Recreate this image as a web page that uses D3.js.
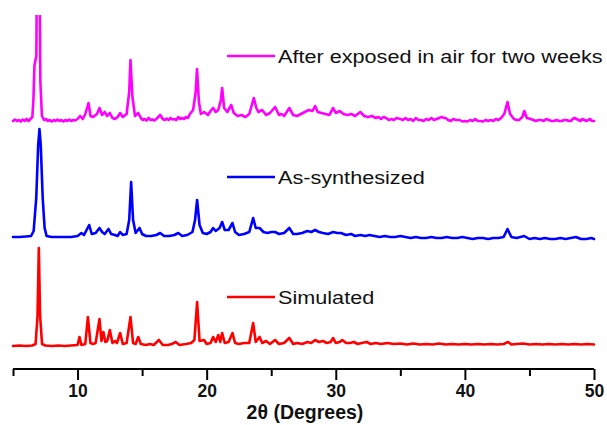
<!DOCTYPE html>
<html>
<head>
<meta charset="utf-8">
<script src="https://cdn.jsdelivr.net/npm/d3@7"></script>
<style>
html,body{margin:0;padding:0;background:#fff;}
svg{display:block;}
</style>
</head>
<body>
<svg id="chart" width="607" height="425"></svg>
<script>
// ---- data (2θ in degrees, intensity in arbitrary units above each trace's offset) ----
const seriesNames = ["After exposed in air for two weeks", "As-synthesized", "Simulated"];
const seriesColors = ["#ff00ff", "#0000ff", "#ff0000"];
const seriesOffsets = [224, 106, 0];

const xTicksMajor = [10, 20, 30, 40, 50];
const xTicksMinor = [5, 15, 25, 35, 45];
const xTitle = "2θ (Degrees)";

const simulated = [
[5.0,0],[5.5,0.5],[6.0,0],[6.5,0.5],[6.75,2],[6.9,30],[7.0,98],[7.1,30],[7.25,2],[7.5,0.5],[8.0,0],[8.5,0.5],[9.0,0],[9.5,0.5],
[10.0,1],[10.15,9],[10.3,1],[10.6,2],[10.8,29],[11.0,3],[11.2,2],[11.4,3],[11.7,27],[11.85,5],[12.0,14],[12.15,4],[12.3,5],[12.5,16],
[12.7,3],[12.9,5],[13.05,3],[13.3,13],[13.5,2],[13.8,3],[14.1,29],[14.3,3],[14.5,2],[14.7,9],[14.9,2],[15.3,1],[15.6,2],[15.9,1],
[16.3,6],[16.6,1],[17.0,1],[17.3,2],[17.6,4],[17.9,1],[18.4,2],[18.8,3],[19.05,6],[19.26,44],[19.45,5],[19.8,6],[20.0,2],[20.3,3],
[20.5,9],[20.7,4],[20.9,11],[21.05,4],[21.2,13],[21.4,3],[21.7,4],[22.0,13],[22.2,3],[22.5,2],[22.9,3],[23.3,3],[23.6,23],[23.8,4],
[24.1,9],[24.3,3],[24.6,5],[24.9,2],[25.3,6],[25.6,2],[26.0,3],[26.4,8],[26.7,2],[27.0,3],[27.4,2],[27.8,4],[28.1,3],[28.4,6],
[28.7,4],[29.0,5],[29.3,3],[29.6,4],[29.8,8],[30.0,3],[30.3,4],[30.5,6],[30.8,3],[31.1,3],[31.4,4],[31.7,2],[32.0,3],[32.4,4],
[32.7,2],[33.1,3],[33.5,2],[34.0,3],[34.5,2],[35.0,2.5],[35.5,1.5],[36.0,2.5],[36.5,1.5],[37.0,2],[37.5,1.5],[38.0,2.5],[38.5,1.5],
[39.0,2],[39.5,1.5],[40.0,2],[40.5,1.5],[41.0,2],[41.5,1.5],[42.0,2],[42.5,1.5],[43.0,2],[43.35,4],[43.6,1.5],[44.0,2],[44.5,2.5],
[45.0,1.5],[45.5,2],[46.0,1.5],[46.5,2],[47.0,1.5],[47.5,2],[48.0,1.5],[48.5,2],[49.0,1.5],[49.5,2],[50.0,1.5]
];

const asSynthesized = [
[5.0,3],[5.5,3],[6.0,3.5],[6.4,4],[6.6,9],[6.8,42],[6.95,95],[7.05,111],[7.15,95],[7.3,42],[7.45,12],[7.6,4],[8.0,3],[8.5,3],
[9.0,3],[9.5,3],[10.0,4],[10.3,7],[10.5,5],[10.7,10],[10.9,15],[11.1,6],[11.4,7],[11.7,12],[11.9,8],[12.1,6],[12.4,11],[12.6,6],
[12.9,5],[13.1,4],[13.3,8],[13.5,5],[13.8,6],[14.0,20],[14.15,58],[14.3,20],[14.5,7],[14.8,12],[15.0,6],[15.3,4],[15.7,4],[16.1,5],
[16.4,7],[16.7,4],[17.1,4],[17.5,5],[17.8,7],[18.1,4],[18.5,5],[18.9,8],[19.1,20],[19.26,40],[19.45,15],[19.7,7],[20.0,6],[20.3,8],
[20.5,12],[20.7,9],[21.0,12],[21.2,18],[21.4,10],[21.7,10],[22.0,17],[22.2,8],[22.5,5],[22.9,6],[23.3,8],[23.6,22],[23.8,12],
[24.1,12],[24.4,8],[24.7,7],[25.0,8],[25.3,8],[25.6,6],[26.0,7],[26.4,12],[26.7,6],[27.0,6],[27.4,7],[27.8,9],[28.1,8],[28.4,10],
[28.7,8],[29.0,7],[29.4,6],[29.8,8],[30.1,7],[30.4,7],[30.8,5],[31.2,6],[31.5,4],[31.9,5],[32.3,4],[32.6,5],[33.0,4],[33.4,3],
[33.8,4],[34.2,3],[34.6,3],[35.0,4],[35.4,3],[35.8,2],[36.2,3],[36.6,2],[37.0,2],[37.4,3],[37.8,2],[38.2,2],[38.6,3],[39.0,2],
[39.4,2],[39.8,3],[40.2,2],[40.6,1],[41.0,2],[41.4,2],[41.8,1],[42.2,2],[42.6,2],[43.0,3],[43.3,11],[43.6,3],[44.0,2],[44.6,4],
[45.0,1],[45.4,2],[45.8,1],[46.2,2],[46.6,1],[47.0,1],[47.4,2],[47.8,1],[48.2,2],[48.6,3],[49.0,1],[49.4,1],[49.8,2],[50.0,1]
];

const afterExposed = [
[5.0,1],[5.15,2.5],[5.3,1],[5.45,2],[5.6,0.5],[5.75,2.5],[5.9,1],[6.05,3],[6.2,1],[6.35,3],[6.5,5],[6.58,22],[6.66,56],[6.74,62],
[6.81,66],[6.87,200],[7.03,200],[7.12,40],[7.24,6],[7.4,2],[7.55,3],[7.7,1],[7.85,2],[8.0,0.5],[8.15,2],[8.3,1],[8.45,2.5],
[8.6,1],[8.75,2],[8.9,0.5],[9.05,2],[9.2,1],[9.35,2.5],[9.5,1],[9.65,2],[9.8,1.5],[10.0,3],[10.2,6],[10.4,3],[10.6,8],[10.85,19],
[11.0,6],[11.2,5],[11.5,8],[11.7,14],[11.9,7],[12.1,10],[12.3,6],[12.5,9],[12.7,4],[12.9,3],[13.1,5],[13.3,9],[13.5,5],[13.8,8],
[14.0,30],[14.1,62],[14.25,25],[14.45,6],[14.7,9],[14.9,4],[15.05,2],[15.2,3],[15.35,1.5],[15.5,4],[15.65,2],[15.8,2.5],[15.95,1.5],
[16.1,3],[16.4,7],[16.6,3],[16.75,2],[16.9,3.5],[17.05,2],[17.2,4],[17.35,2.5],[17.5,3],[17.65,2],[17.8,5],[17.95,3],[18.1,4],
[18.25,3],[18.4,5],[18.55,4],[18.7,8],[18.95,12],[19.15,30],[19.25,53],[19.4,20],[19.55,8],[19.8,10],[20.1,7],[20.3,11],[20.5,14],
[20.7,10],[20.9,12],[21.1,22],[21.2,34],[21.35,14],[21.6,10],[21.9,17],[22.1,9],[22.4,6],[22.7,7],[23.0,5],[23.3,8],[23.65,24],
[23.85,14],[24.0,10],[24.3,12],[24.6,7],[24.9,9],[25.3,15],[25.6,7],[25.8,8],[26.0,6],[26.4,14],[26.7,7],[27.0,6],[27.3,8],[27.6,10],
[27.9,12],[28.2,11],[28.4,16],[28.6,10],[28.9,9],[29.2,8],[29.5,7],[29.8,14],[30.0,9],[30.3,11],[30.6,8],[30.9,7],[31.2,8],[31.5,6],
[31.9,10],[32.2,6],[32.5,5],[32.8,6],[33.1,4],[33.3,5],[33.5,3],[33.7,5],[33.9,4],[34.1,2],[34.3,3],[34.5,2],[34.7,4],[35.0,3],
[35.2,2],[35.4,4],[35.6,2],[35.8,3],[36.0,1],[36.2,4],[36.4,2],[36.6,2],[36.8,1],[37.0,3],[37.2,2],[37.4,4],[37.6,2],[37.8,3],
[38.0,4],[38.2,5],[38.4,4],[38.5,4],[38.7,2],[38.9,1],[39.1,3],[39.3,2],[39.6,2],[39.8,0.5],[40.0,1],[40.2,0.5],[40.4,2],[40.6,1],
[40.8,3],[41.0,1],[41.2,1],[41.4,0.5],[41.6,2],[41.8,1],[42.0,2],[42.2,1],[42.4,3],[42.6,2],[42.8,4],[43.05,8],[43.3,20],[43.5,8],
[43.8,3],[44.0,2],[44.2,2],[44.45,5],[44.6,11],[44.8,4],[45.1,3],[45.3,2],[45.5,1],[45.7,2],[45.9,2],[46.1,1],[46.3,3],[46.5,2],
[46.7,1],[46.9,1],[47.1,2],[47.3,1],[47.5,1],[47.7,2],[47.9,2],[48.05,1],[48.2,1],[48.35,3],[48.5,4],[48.65,3],[48.8,2],[48.95,1],
[49.1,3],[49.25,2],[49.4,1],[49.55,2],[49.7,3],[49.85,1],[50.0,1]
];

const seriesData = [afterExposed, asSynthesized, simulated];

// ---- drawing ----
const svg = d3.select("#chart");
const W = 607, H = 425;
const axisY = 369;

const x = d3.scaleLinear().domain([5, 50]).range([13, 594]);
const y = d3.scaleLinear().domain([0, 331]).range([346, 15]);

svg.append("defs").append("clipPath").attr("id", "plotclip")
  .append("rect").attr("x", 0).attr("y", 15).attr("width", W).attr("height", axisY - 15);

const plot = svg.append("g").attr("clip-path", "url(#plotclip)");
const line = d3.line().x(d => x(d[0])).y(d => y(d[1]));

seriesData.forEach((data, i) => {
  const off = seriesOffsets[i];
  plot.append("path")
    .datum(data.map(d => [d[0], d[1] + off]))
    .attr("d", line)
    .attr("fill", "none")
    .attr("stroke", seriesColors[i])
    .attr("stroke-width", 2.6)
    .attr("stroke-linejoin", "round")
    .attr("stroke-linecap", "round");
});

// x axis
const gx = svg.append("g").attr("transform", `translate(0,${axisY})`);
gx.call(d3.axisBottom(x).tickValues(xTicksMinor).tickSize(7).tickFormat(""))
  .call(g => g.select(".domain").remove());
gx.append("g").call(d3.axisBottom(x).tickValues(xTicksMajor).tickSize(11).tickFormat(d3.format("d")).tickPadding(5))
  .call(g => g.select(".domain").attr("stroke-width", 2.2).attr("d", `M${x(5)},0H${x(50)}`));
gx.selectAll(".tick line").attr("stroke", "#000").attr("stroke-width", 2);
gx.selectAll(".tick text")
  .attr("font-family", "'Liberation Sans', Arial, sans-serif")
  .attr("font-weight", "bold")
  .attr("font-size", 17.5)
  .attr("fill", "#111");

svg.append("text")
  .attr("x", 305).attr("y", 419)
  .attr("text-anchor", "middle")
  .attr("font-family", "'Liberation Sans', Arial, sans-serif")
  .attr("font-weight", "bold")
  .attr("font-size", 19.5)
  .attr("fill", "#111")
  .text(xTitle);

// legend labels
const legendY = [56, 177, 297];
seriesNames.forEach((name, i) => {
  svg.append("line")
    .attr("x1", 227).attr("x2", 275)
    .attr("y1", legendY[i]).attr("y2", legendY[i])
    .attr("stroke", seriesColors[i]).attr("stroke-width", 2.6);
  svg.append("text")
    .attr("transform", `translate(278,${legendY[i] + 6.6}) scale(1.17,1)`)
    .attr("font-family", "'Liberation Sans', Arial, sans-serif")
    .attr("font-size", 18.5)
    .attr("fill", "#111")
    .text(name);
});
</script>
</body>
</html>
